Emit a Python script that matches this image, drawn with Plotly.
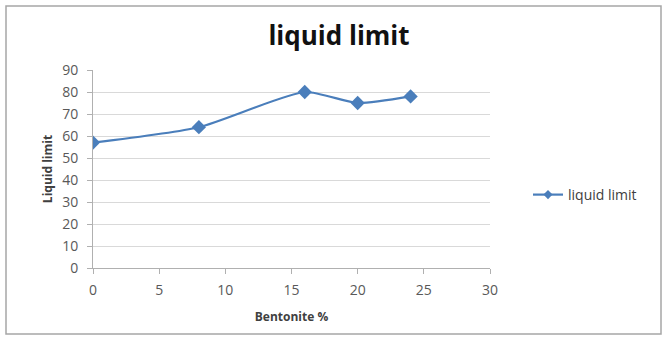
import plotly.graph_objects as go

# Liquid limit against bentonite content
bentonite_pct = [0, 8, 16, 20, 24]
liquid_limit = [57, 64, 80, 75, 78]
series_name = "liquid limit"
x_ticks = [0, 5, 10, 15, 20, 25, 30]
y_ticks = [0, 10, 20, 30, 40, 50, 60, 70, 80, 90]

W, H = 665, 338
L, R, T, B = 93, 175, 70, 70
pw, ph = W - L - R, H - T - B

def px_to_paper_x(px):
    return (px - L) / pw

def px_to_paper_y(py):
    return (H - B - py) / ph

blue = "#4A7EBB"
font_family = "'Open Sans', sans-serif"

fig = go.Figure()
fig.add_trace(go.Scatter(
    x=bentonite_pct, y=liquid_limit, name=series_name,
    mode="lines+markers", showlegend=False,
    line=dict(color=blue, width=2.2, shape="spline", smoothing=0.6),
    marker=dict(symbol="diamond", size=11, color=blue),
))
# Legend entry with a smaller marker
fig.add_trace(go.Scatter(
    x=[None], y=[None], name=series_name, mode="lines+markers",
    line=dict(color=blue, width=2.2),
    marker=dict(symbol="diamond", size=7, color=blue),
))

fig.update_layout(
    width=W, height=H,
    margin=dict(l=L, r=R, t=T, b=B),
    paper_bgcolor="white", plot_bgcolor="white",
    font=dict(family=font_family, color="#595959", size=13),
    title=dict(text="<b>liquid limit</b>", x=339 / W, xref="container",
               y=1 - 36 / H, yref="container", xanchor="center", yanchor="middle",
               font=dict(size=26, color="#111111", family=font_family)),
    showlegend=True,
    legend=dict(x=px_to_paper_x(528), y=px_to_paper_y(195), xanchor="left", yanchor="middle",
                font=dict(size=14, color="#404040"), bgcolor="rgba(0,0,0,0)",
                itemwidth=30),
    xaxis=dict(range=[0, 30], tickvals=x_ticks, showgrid=False, zeroline=False,
               showline=True, linecolor="#b0b0b0", linewidth=1,
               ticks="outside", ticklen=5, tickcolor="#b0b0b0",
               ticklabelstandoff=4,
               tickfont=dict(size=14, color="#595959"),
               title=dict(text="<b>Bentonite %</b>", standoff=14,
                          font=dict(size=12, color="#404040"))),
    yaxis=dict(range=[0, 90], tickvals=y_ticks, showgrid=True, gridcolor="#d9d9d9",
               gridwidth=1, zeroline=False,
               showline=True, linecolor="#b0b0b0", linewidth=1,
               ticks="outside", ticklen=5, tickcolor="#b0b0b0",
               ticklabelstandoff=6,
               tickfont=dict(size=14, color="#595959"),
               title=dict(text="<b>Liquid limit</b>", standoff=6,
                          font=dict(size=12, color="#404040"))),
)

# Chart frame
fig.add_shape(type="rect", xref="paper", yref="paper",
              x0=px_to_paper_x(6), x1=px_to_paper_x(661),
              y0=px_to_paper_y(334), y1=px_to_paper_y(6),
              line=dict(color="#a6a6a6", width=1.5), fillcolor="rgba(0,0,0,0)",
              layer="below")

fig.write_html("out.html")
